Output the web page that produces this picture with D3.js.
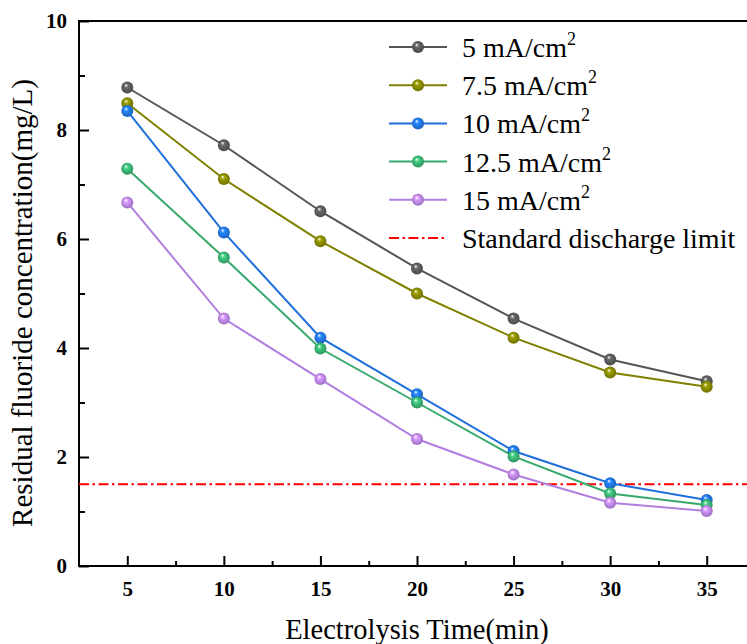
<!DOCTYPE html>
<html>
<head>
<meta charset="utf-8">
<script src="https://cdn.jsdelivr.net/npm/d3@7"></script>
<style>
  body { margin: 0; background: #fff; }
  svg text { font-family: "Liberation Serif", "DejaVu Serif", serif !important; }
</style>
</head>
<body>
<div id="chart"></div>
<script>
// data
var times = [5, 10, 15, 20, 25, 30, 35];
var c5 = [8.78, 7.72, 6.51, 5.46, 4.54, 3.79, 3.39];
var c75 = [8.49, 7.10, 5.96, 5.00, 4.19, 3.55, 3.29];
var c10 = [8.35, 6.12, 4.19, 3.15, 2.11, 1.52, 1.21];
var c125 = [7.29, 5.66, 3.99, 3.00, 2.01, 1.33, 1.12];
var c15 = [6.67, 4.54, 3.43, 2.33, 1.68, 1.16, 1.01];
var seriesNames = ["5 mA/cm", "7.5 mA/cm", "10 mA/cm", "12.5 mA/cm", "15 mA/cm"];
var limitValue = 1.5;
var limitName = "Standard discharge limit";
var xTicks = [5, 10, 15, 20, 25, 30, 35];
var yTicks = [0, 2, 4, 6, 8, 10];

var colors = ["#555555", "#808000", "#1f6fdc", "#36a96b", "#b17ee0"];
var allSeries = [c5, c75, c10, c125, c15];
var serif = "Liberation Serif";

var width = 747, height = 644;
var svg = d3.select("#chart")
  .append("svg")
    .attr("width", width)
    .attr("height", height)
    .attr("font-family", serif);

// scales (the right edge of the frame falls outside the picture)
var x = d3.scaleLinear().domain([2.5, 37.5]).range([79, 755]);
var y = d3.scaleLinear().domain([0, 10]).range([566, 21]);

// sphere-like gradients for the markers
var defs = svg.append("defs");
colors.forEach(function(c, i) {
  var g = defs.append("radialGradient")
    .attr("id", "ball" + i)
    .attr("cx", "50%").attr("cy", "50%").attr("r", "55%")
    .attr("fx", "38%").attr("fy", "30%");
  g.append("stop").attr("offset", "0%").attr("stop-color", "#ffffff");
  g.append("stop").attr("offset", "30%").attr("stop-color", d3.color(c).brighter(0.6));
  g.append("stop").attr("offset", "100%").attr("stop-color", d3.color(c).darker(0.5));
});

// axes with inward ticks
var fmt = d3.format("d");
svg.append("g")
  .attr("transform", "translate(79,0)")
  .call(d3.axisLeft(y).tickValues(yTicks).tickSize(-10).tickPadding(12).tickFormat(fmt));
svg.append("g")
  .attr("transform", "translate(79,0)")
  .call(d3.axisLeft(y).tickValues([1, 3, 5, 7, 9]).tickSize(-6).tickFormat(""));
svg.append("g")
  .attr("transform", "translate(0,566)")
  .call(d3.axisBottom(x).tickValues(xTicks).tickSize(-10).tickPadding(15).tickFormat(fmt));
svg.append("g")
  .attr("transform", "translate(0,566)")
  .call(d3.axisBottom(x).tickValues([7.5, 12.5, 17.5, 22.5, 27.5, 32.5]).tickSize(-5).tickFormat(""));

svg.selectAll(".domain").remove();
svg.selectAll("g").attr("font-family", serif);
svg.selectAll(".tick line").attr("stroke", "#000").attr("stroke-width", 2);
svg.selectAll(".tick text")
  .attr("font-family", serif)
  .attr("font-size", 21)
  .attr("font-weight", "bold")
  .attr("fill", "#000");

// frame
svg.append("rect")
  .attr("x", x(2.5)).attr("y", y(10))
  .attr("width", x(37.5) - x(2.5)).attr("height", y(0) - y(10))
  .attr("fill", "none").attr("stroke", "#000").attr("stroke-width", 2);

// standard limit line
svg.append("line")
  .attr("x1", x(2.5)).attr("x2", x(37.5))
  .attr("y1", y(limitValue)).attr("y2", y(limitValue))
  .attr("stroke", "#ff0000").attr("stroke-width", 2)
  .attr("stroke-dasharray", "10,3.5,2.5,3.5");

// lines and markers
var line = d3.line()
  .x(function(d, i) { return x(times[i]); })
  .y(function(d) { return y(d); });

allSeries.forEach(function(s, k) {
  svg.append("path")
    .datum(s)
    .attr("fill", "none")
    .attr("stroke", colors[k])
    .attr("stroke-width", 2)
    .attr("d", line);
});
allSeries.forEach(function(s, k) {
  svg.selectAll(".pt" + k)
    .data(s)
    .enter().append("circle")
      .attr("cx", function(d, i) { return x(times[i]); })
      .attr("cy", function(d) { return y(d); })
      .attr("r", 6)
      .attr("fill", "url(#ball" + k + ")");
});

// legend
var legend = svg.append("g").attr("transform", "translate(389,47)");
var rowH = 38.2;
seriesNames.forEach(function(n, k) {
  var row = legend.append("g").attr("transform", "translate(0," + (k * rowH) + ")");
  row.append("line").attr("x1", 0).attr("x2", 58).attr("y1", 0).attr("y2", 0)
    .attr("stroke", colors[k]).attr("stroke-width", 2);
  row.append("circle").attr("cx", 29).attr("cy", 0).attr("r", 6)
    .attr("fill", "url(#ball" + k + ")");
  var t = row.append("text")
    .attr("x", 73).attr("y", 10)
    .attr("font-family", serif)
    .attr("font-size", 28)
    .attr("fill", "#000");
  t.append("tspan").text(n);
  t.append("tspan").attr("dy", -12).attr("font-size", 18).text("2");
});
var limRow = legend.append("g").attr("transform", "translate(0," + (5 * rowH) + ")");
limRow.append("line").attr("x1", 0).attr("x2", 58).attr("y1", 0).attr("y2", 0)
  .attr("stroke", "#ff0000").attr("stroke-width", 2)
  .attr("stroke-dasharray", "10,3.5,2.5,3.5");
limRow.append("text")
  .attr("x", 73).attr("y", 10)
  .attr("font-family", serif)
  .attr("font-size", 28)
  .attr("fill", "#000")
  .text(limitName);

// axis titles
svg.append("text")
  .attr("x", 417).attr("y", 639)
  .attr("text-anchor", "middle")
  .attr("font-family", serif)
  .attr("font-size", 28.5)
  .text("Electrolysis Time(min)");
svg.append("text")
  .attr("transform", "translate(32,303) rotate(-90)")
  .attr("text-anchor", "middle")
  .attr("font-family", serif)
  .attr("font-size", 29)
  .text("Residual fluoride concentration(mg/L)");
</script>
</body>
</html>
